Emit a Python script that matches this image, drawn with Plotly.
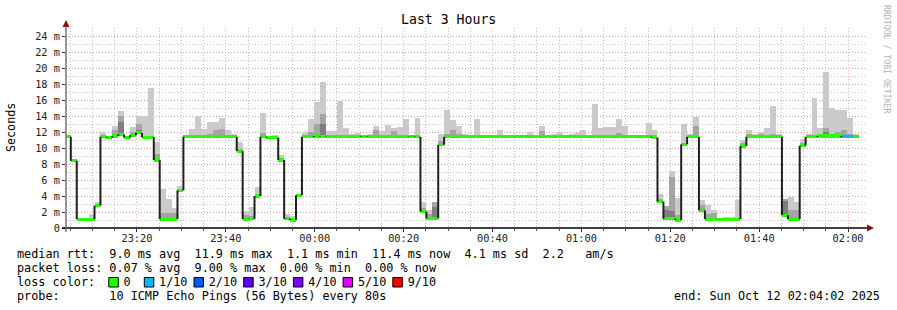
import datetime as dt
import plotly.graph_objects as go

# ---------------- data ----------------
title_text = "Last 3 Hours"
y_title = "Seconds"
watermark = "RRDTOOL / TOBI OETIKER"
window_start = dt.datetime(2025, 10, 11, 23, 4, 2)
window_end = dt.datetime(2025, 10, 12, 2, 4, 2)
first_step = dt.datetime(2025, 10, 11, 23, 3, 47)
step_seconds = 80

# median rtt per 80 s step (ms)
median_ms = [
    11.4, 8.4, 1.1, 1.1, 1.1, 2.8, 11.4, 11.3, 11.5, 11.7,
    11.3, 11.6, 11.9, 11.35, 11.35, 8.5, 1.1, 1.1, 1.1, 4.7,
    11.4, 11.4, 11.4, 11.4, 11.4, 11.4, 11.4, 11.4, 11.4, 9.6,
    1.1, 1.15, 4.0, 11.4, 11.3, 11.3, 8.5, 1.15, 1.0, 4.1,
    11.4, 11.4, 11.5, 11.45, 11.4, 11.4, 11.4, 11.4, 11.4, 11.4,
    11.45, 11.4, 11.4, 11.4, 11.4, 11.4, 11.4, 11.4, 11.45, 11.4,
    2.05, 1.2, 1.2, 10.4, 11.4, 11.4, 11.4, 11.4, 11.4, 11.4,
    11.4, 11.4, 11.4, 11.4, 11.4, 11.4, 11.4, 11.4, 11.4, 11.4,
    11.4, 11.4, 11.4, 11.4, 11.4, 11.4, 11.4, 11.4, 11.4, 11.4,
    11.4, 11.4, 11.4, 11.4, 11.4, 11.4, 11.4, 11.4, 11.4, 11.3,
    3.3, 1.15, 1.15, 1.0, 10.45, 11.4, 11.4, 2.2, 1.1, 1.1,
    1.1, 1.1, 1.1, 1.1, 10.25, 11.4, 11.4, 11.4, 11.4, 11.4,
    11.4, 1.6, 1.1, 1.1, 10.3, 11.4, 11.4, 11.5, 11.5, 11.5,
    11.5, 11.4, 11.4, 11.4,
]

# top of the light smoke (slowest ping) per step (ms); None = no smoke
smoke_max_ms = [
    11.6, None, None, None, 1.8, 3.2, 12.0, None, 12.75, 14.6,
    11.5, 12.6, 14.0, 14.0, 17.5, 10.75, 4.9, 3.6, 2.5, 5.25,
    11.5, 12.4, 14.0, 12.4, 13.2, 13.2, 13.7, 12.25, 11.7, 10.75,
    2.1, 2.6, 5.1, 14.4, 11.5, 11.6, 9.1, 1.8, 1.5, 4.3,
    12.0, 13.6, 15.8, 18.25, 12.1, 12.1, 15.9, 12.5, 11.75, 11.9,
    11.6, 11.75, 12.75, 12.1, 12.9, 12.5, 12.6, 13.6, None, 13.75,
    3.2, 2.3, 3.25, 11.75, 14.7, 13.5, 12.7, 11.75, None, 13.6,
    11.5, None, 11.6, 12.25, None, 11.6, None, 11.5, 12.0, None,
    12.75, 11.6, 11.8, 12.0, 11.6, 11.7, 11.9, 12.25, None, 15.5,
    12.55, 12.6, 12.6, 13.6, 12.75, None, None, None, 13.15, 12.25,
    4.2, 2.75, 7.1, 3.75, 12.95, 11.7, 13.9, 3.5, 2.9, 2.25,
    None, 1.4, 1.4, 3.5, 11.0, 12.25, 11.75, 12.0, 12.5, 15.25,
    11.7, 3.6, 3.9, 3.2, 11.1, 11.75, 16.2, 12.55, 19.55, 15.0,
    14.7, 14.7, 13.8, 11.7,
]

# top of the medium smoke per step (ms)
smoke_mid_ms = [
    None, None, None, None, None, None, None, None, 12.3, 14.0,
    None, 12.0, 13.0, None, None, 9.25, 1.9, 1.9, 1.9, None,
    None, None, None, None, 11.7, 12.2, 12.4, 11.6, None, 9.9,
    1.6, 1.5, None, 11.9, None, None, None, None, None, None,
    None, 12.0, 13.0, 14.25, 11.6, 11.6, 11.6, None, None, None,
    None, 11.6, 12.25, None, None, 12.1, None, None, None, None,
    2.5, 1.7, 3.2, 10.9, 11.75, 12.25, 11.7, None, None, None,
    None, None, None, None, None, None, None, None, None, None,
    12.1, None, None, None, None, None, None, None, None, None,
    None, None, None, 11.9, None, None, None, None, None, 11.6,
    3.6, 2.75, 6.4, 1.6, 10.6, None, 12.75, 2.9, 1.7, 1.9,
    None, None, None, None, 10.6, 11.7, None, 11.7, None, 11.8,
    None, 3.6, 2.2, 2.2, 10.6, None, None, 11.75, 12.55, 11.75,
    12.0, 12.2, 11.75, None,
]

# top of the dark (inner) smoke per step (ms)
smoke_inner_ms = [
    None, None, None, None, None, None, None, None, None, 13.25,
    None, None, 12.3, None, None, None, None, None, None, None,
    None, None, None, None, None, None, None, None, None, None,
    None, None, None, None, None, None, None, None, None, None,
    None, None, None, 13.0, None, None, None, None, None, None,
    None, None, None, None, None, None, None, None, None, None,
    None, None, 2.6, None, None, None, None, None, None, None,
    None, None, None, None, None, None, None, None, None, None,
    None, None, None, None, None, None, None, None, None, None,
    None, None, None, None, None, None, None, None, None, None,
    None, 2.3, 2.1, None, None, None, None, None, None, None,
    None, None, None, None, None, None, None, None, None, None,
    None, 3.4, None, None, None, None, None, None, 12.0, None,
    None, None, None, None,
]

# packet-loss level index per step (0 -> "0", 1 -> "1/10")
loss_level = [
    0, 0, 0, 0, 0, 0, 0, 0, 0, 0,
    0, 0, 0, 0, 0, 0, 0, 0, 0, 0,
    0, 0, 0, 0, 0, 0, 0, 0, 0, 0,
    0, 0, 0, 0, 0, 0, 0, 0, 0, 0,
    0, 0, 0, 0, 0, 0, 0, 0, 0, 0,
    0, 0, 0, 0, 0, 0, 0, 0, 0, 0,
    0, 0, 0, 0, 0, 0, 0, 0, 0, 0,
    0, 0, 0, 0, 0, 0, 0, 0, 0, 0,
    0, 0, 0, 0, 0, 0, 0, 0, 0, 0,
    0, 0, 0, 0, 0, 0, 0, 0, 0, 0,
    0, 0, 0, 0, 0, 0, 0, 0, 0, 0,
    0, 0, 0, 0, 0, 0, 0, 0, 0, 0,
    0, 0, 0, 0, 0, 0, 0, 0, 0, 0,
    0, 1, 1, 0,
]

loss_labels = ["0", "1/10", "2/10", "3/10", "4/10", "5/10", "9/10"]
loss_colors = ["#26ff00", "#00b8ff", "#0059ff", "#5e00ff", "#7e00ff", "#dd00ff", "#ff0000"]

y_tick_values = [0, 2, 4, 6, 8, 10, 12, 14, 16, 18, 20, 22, 24]
y_tick_labels = ["0", "2 m", "4 m", "6 m", "8 m", "10 m", "12 m", "14 m",
                 "16 m", "18 m", "20 m", "22 m", "24 m"]

legend_rtt = "median rtt:  9.0 ms avg  11.9 ms max  1.1 ms min  11.4 ms now  4.1 ms sd  2.2   am/s"
legend_loss = "packet loss: 0.07 % avg  9.00 % max  0.00 % min  0.00 % now"
legend_color_title = "loss color:"
legend_probe = "probe:       10 ICMP Echo Pings (56 Bytes) every 80s"
legend_end = "end: Sun Oct 12 02:04:02 2025"

# ---------------- geometry helpers (pixels -> paper) ----------------
W, H = 897, 310
PL, PR, PT, PB = 66, 866, 28, 228


def px(x):
    return (x - PL) / (PR - PL)


def py(y):
    return (PB - y) / (PB - PT)


MONO = "DejaVu Sans Mono"
NB = "\u00a0"

n = len(median_ms)
starts = [first_step + dt.timedelta(seconds=step_seconds * k) for k in range(n)]
centers = [s + dt.timedelta(seconds=step_seconds / 2) for s in starts]
width_ms = step_seconds * 1000

fig = go.Figure()


def smoke_trace(tops, color):
    xs, base, hgt = [], [], []
    for c, m, t in zip(centers, median_ms, tops):
        if t is None:
            continue
        xs.append(c)
        base.append(m)
        hgt.append(t - m)
    fig.add_trace(go.Bar(x=xs, y=hgt, base=base, width=width_ms,
                         marker=dict(color=color, line=dict(width=0)),
                         hoverinfo="skip", showlegend=False))


smoke_trace(smoke_max_ms, "#cacaca")
smoke_trace(smoke_mid_ms, "#a4a4a4")
smoke_trace(smoke_inner_ms, "#7e7e7e")

# median band coloured by loss
band = 0.4
fig.add_trace(go.Bar(
    x=centers, y=[band] * n, base=[m - band / 2 for m in median_ms], width=width_ms,
    marker=dict(color=[loss_colors[l] for l in loss_level], line=dict(width=0)),
    hoverinfo="skip", showlegend=False))

# vertical connectors of median line
vx, vy = [], []
for k in range(1, n):
    vx += [starts[k], starts[k], None]
    vy += [median_ms[k - 1], median_ms[k], None]
fig.add_trace(go.Scatter(x=vx, y=vy, mode="lines",
                         line=dict(color="#202020", width=2),
                         hoverinfo="skip", showlegend=False, cliponaxis=True))

# ---------------- shapes ----------------
shapes = []
shapes.append(dict(type="line", xref="paper", yref="paper",
                   x0=px(62), x1=px(869), y0=py(228), y1=py(228),
                   line=dict(color="#000000", width=1.5)))
shapes.append(dict(type="line", xref="paper", yref="paper",
                   x0=px(66), x1=px(66), y0=py(232), y1=py(24),
                   line=dict(color="#555555", width=1.2)))
shapes.append(dict(type="path", xref="paper", yref="paper",
                   path=f"M {px(867)},{py(224.5)} L {px(874)},{py(228)} L {px(867)},{py(231.5)} Z",
                   fillcolor="#8b1010", line=dict(width=0)))
shapes.append(dict(type="path", xref="paper", yref="paper",
                   path=f"M {px(62.5)},{py(27)} L {px(66)},{py(20)} L {px(69.5)},{py(27)} Z",
                   fillcolor="#8b1010", line=dict(width=0)))

# ---------------- annotations ----------------
ann = []


def text(x, y, s, size=11.8, anchor="left", color="#000000", angle=0, family=MONO):
    ann.append(dict(xref="paper", yref="paper", x=px(x), y=py(y),
                    text=s.replace(" ", NB), showarrow=False,
                    xanchor=anchor, yanchor="middle", textangle=angle,
                    font=dict(family=family, size=size, color=color)))


text(448, 19, title_text, size=13.2, anchor="center")
text(11, 127, y_title, size=11.7, anchor="center", angle=-90)
text(887, 59, watermark, size=8.2, anchor="center", color="#b4b4b4", angle=90)

CW = 7.1
LX = 15
text(LX, 254, legend_rtt)
text(LX, 268, legend_loss)
text(LX, 296, legend_probe)
text(882, 296, legend_end, anchor="right")

cols = 59
chars = [" "] * cols
for i, ch in enumerate(legend_color_title):
    chars[i] = ch
label_cols = [15, 20, 27, 34, 41, 48, 55]
box_cols = [13, 18, 25, 32, 39, 46, 53]
for lab, c in zip(loss_labels, label_cols):
    for i, ch in enumerate(lab):
        chars[c + i] = ch
text(LX, 282, "".join(chars))
for col, c in zip(box_cols, loss_colors):
    x0 = LX + 1 + CW * col + 0.5
    shapes.append(dict(type="rect", xref="paper", yref="paper",
                       x0=px(x0), x1=px(x0 + 9.5), y0=py(287), y1=py(277.5),
                       fillcolor=c, line=dict(color="#000000", width=1)))

red_grid = "rgba(240,120,120,0.55)"
gray_grid = "rgba(170,170,170,0.7)"

fig.update_layout(
    width=W, height=H, autosize=False,
    margin=dict(l=PL, r=W - PR, t=PT, b=H - PB, pad=0),
    paper_bgcolor="#ffffff", plot_bgcolor="#ffffff",
    barmode="overlay", bargap=0, showlegend=False,
    shapes=shapes, annotations=ann,
    xaxis=dict(
        type="date", range=[window_start, window_end],
        dtick=20 * 60 * 1000, tickformat="%H:%M",
        showgrid=True, gridcolor=red_grid, griddash="1px,2px", gridwidth=1,
        ticks="outside", ticklen=3, tickcolor="#333333", ticklabelstandoff=-2,
        tickfont=dict(family=MONO, size=10.3, color="#222222"),
        minor=dict(dtick=5 * 60 * 1000, showgrid=True, gridcolor=gray_grid,
                   griddash="1px,2px", gridwidth=1, ticks="outside", ticklen=2,
                   tickcolor="#555555"),
        showline=False, zeroline=False, fixedrange=True,
    ),
    yaxis=dict(
        range=[0, 25], tickvals=y_tick_values, ticktext=y_tick_labels,
        showgrid=True, gridcolor=red_grid, griddash="1px,2px", gridwidth=1,
        ticks="outside", ticklen=3, tickcolor="#333333",
        tickfont=dict(family=MONO, size=10.3, color="#222222"),
        minor=dict(dtick=1, showgrid=True, gridcolor=gray_grid,
                   griddash="1px,2px", gridwidth=1),
        showline=False, zeroline=False, fixedrange=True,
    ),
)

fig.write_html("out.html")
